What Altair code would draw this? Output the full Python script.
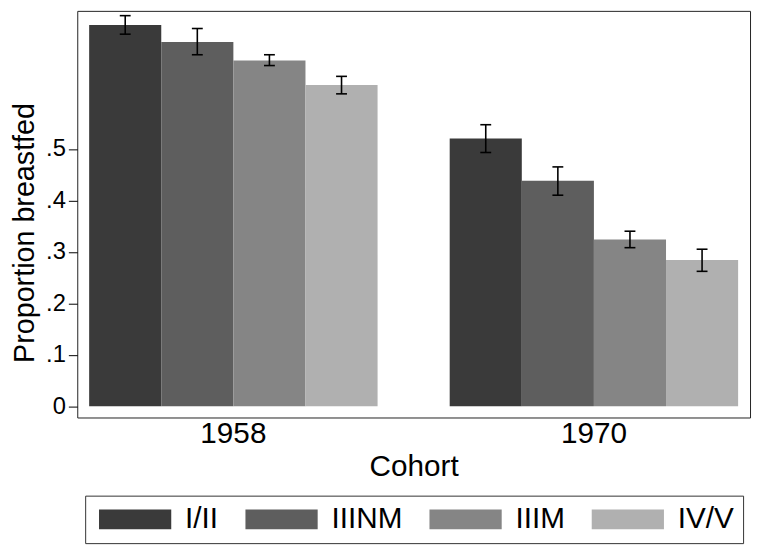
import altair as alt
import pandas as pd

# ---- data ----
cohorts = ["1958", "1958", "1958", "1958", "1970", "1970", "1970", "1970"]
classes = ["I/II", "IIINM", "IIIM", "IV/V", "I/II", "IIINM", "IIIM", "IV/V"]
props = [0.741, 0.708, 0.672, 0.624, 0.520, 0.438, 0.324, 0.284]
lower = [0.723, 0.683, 0.662, 0.607, 0.493, 0.410, 0.308, 0.262]
upper = [0.759, 0.734, 0.683, 0.641, 0.547, 0.465, 0.340, 0.305]
class_order = ["I/II", "IIINM", "IIIM", "IV/V"]
class_colors = ["#3a3a3a", "#5e5e5e", "#858585", "#b0b0b0"]
y_ticks = [0, 0.1, 0.2, 0.3, 0.4, 0.5]

df = pd.DataFrame(dict(cohort=cohorts, cls=classes, prop=props, lo=lower, hi=upper))

FONT = "Liberation Sans"

x_enc = alt.X(
    "cohort:N",
    title="Cohort",
    scale=alt.Scale(paddingInner=0.2, paddingOuter=0.033),
    axis=alt.Axis(
        labelAngle=0, ticks=False, tickSize=0, domain=False,
        labelFontSize=30, labelPadding=25, labelBaseline="alphabetic",
        labelColor="black", labelFont=FONT,
        titleFontSize=30, titleFontWeight="normal", titleColor="black", titleFont=FONT,
        titleY=59, titleBaseline="alphabetic",
    ),
)
xo_enc = alt.XOffset("cls:N", sort=class_order, scale=alt.Scale(paddingInner=0, paddingOuter=0))

y_scale = alt.Scale(domain=[-0.0221, 0.7683], nice=False, zero=False)
y_axis = alt.Axis(
    values=y_ticks,
    labelExpr="datum.value == 0 ? '0' : replace(format(datum.value, '.1f'), '0.', '.')",
    grid=False, domain=False, tickSize=9, tickColor="black", tickWidth=1,
    labelFontSize=24, labelPadding=3, labelColor="black", labelFont=FONT,
    titleFontSize=29, titleFontWeight="normal", titleColor="black", titleFont=FONT,
    titleX=-44, titleY=224, titleAngle=270, titleAlign="center", titleBaseline="alphabetic",
)
YTITLE = "Proportion breastfed"

bars = alt.Chart(df).mark_bar().encode(
    x=x_enc,
    xOffset=xo_enc,
    y=alt.Y("prop:Q", scale=y_scale, axis=y_axis, title=YTITLE),
    y2=alt.datum(0),
    color=alt.Color(
        "cls:N",
        sort=class_order,
        title=None,
        scale=alt.Scale(domain=class_order, range=class_colors),
        legend=alt.Legend(
            orient="none", legendX=8, legendY=490,
            direction="horizontal", columns=4, gridAlign="none",
            symbolType="M-1,-1L6.3,-1L6.3,1L-1,1Z", symbolSize=400,
            symbolStrokeWidth=0, symbolOpacity=1,
            labelFontSize=30, labelFont=FONT, labelColor="black", labelOffset=62,
            columnPadding=22, padding=9, strokeColor="#333",
        ),
    ),
)

rules = alt.Chart(df).mark_rule(color="black", strokeWidth=1.6).encode(
    x=x_enc,
    xOffset=xo_enc,
    y=alt.Y("lo:Q", scale=y_scale, axis=y_axis, title=YTITLE),
    y2="hi:Q",
)

caps_lo = alt.Chart(df).mark_tick(color="black", size=11, thickness=1.6, opacity=1).encode(
    x=x_enc,
    xOffset=xo_enc,
    y=alt.Y("lo:Q", scale=y_scale, axis=y_axis, title=YTITLE),
)
caps_hi = alt.Chart(df).mark_tick(color="black", size=11, thickness=1.6, opacity=1).encode(
    x=x_enc,
    xOffset=xo_enc,
    y=alt.Y("hi:Q", scale=y_scale, axis=y_axis, title=YTITLE),
)

chart = (
    alt.layer(bars, rules, caps_lo, caps_hi)
    .properties(
        width=680, height=411,
        padding={"left": 70, "top": 0, "right": 2, "bottom": 128},
        autosize=alt.AutoSizeParams(type="none"),
        background="white",
    )
    .configure(font=FONT)
    .configure_view(stroke="#222", strokeWidth=1)
)

chart.save("out.html", embed_options={"renderer": "svg", "actions": False})
